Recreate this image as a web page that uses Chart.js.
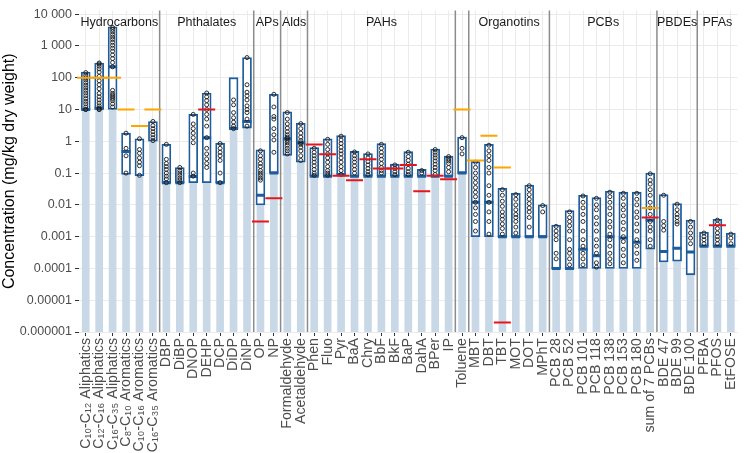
<!DOCTYPE html>
<html lang="en">
<head>
<meta charset="utf-8">
<title>Concentration by compound</title>
<script src="https://cdn.jsdelivr.net/npm/chart.js@4.4.1/dist/chart.umd.min.js"></script>
<style>
    html, body { margin: 0; padding: 0; background: #ffffff; }
    #wrap { width: 750px; height: 453px; }
</style>
</head>
<body>
<div id="wrap"><canvas id="concChart" width="750" height="453"></canvas></div>
<script>
// Compounds, in plotting order
const categories = [
    'C₁₀-C₁₂ Aliphatics', 'C₁₂-C₁₆ Aliphatics', 'C₁₆-C₃₅ Aliphatics',
    'C₈-C₁₀ Aromatics', 'C₁₀-C₁₆ Aromatics', 'C₁₆-C₃₅ Aromatics',
    'DBP', 'DiBP', 'DNOP', 'DEHP', 'DCP', 'DiDP', 'DiNP',
    'OP', 'NP',
    'Formaldehyde', 'Acetaldehyde',
    'Phen', 'Fluo', 'Pyr', 'BaA', 'Chry', 'BbF', 'BkF', 'BaP', 'DahA', 'BPer', 'IP',
    'Toluene',
    'MBT', 'DBT', 'TBT', 'MOT', 'DOT', 'MPhT',
    'PCB 28', 'PCB 52', 'PCB 101', 'PCB 118', 'PCB 138', 'PCB 153', 'PCB 180', 'sum of 7 PCBs',
    'BDE 47', 'BDE 99', 'BDE 100',
    'PFBA', 'PFOS', 'EtFOSE'
];

// Facet groups (Toluene has no header)
const groupNames = ['Hydrocarbons', 'Phthalates', 'APs', 'Alds', 'PAHs', '', 'Organotins', 'PCBs', 'PBDEs', 'PFAs'];
const groupSizes = [6, 7, 2, 2, 11, 1, 6, 8, 3, 3];

// Quantification limit (light blue column)
const loq = [
    10, 10, 10, 0.09, 0.083, 1,
    0.05, 0.05, 0.05, 0.05, 0.05, 2.4, 2.6,
    0.01, 0.1,
    0.36, 0.22,
    0.08, 0.08, 0.08, 0.08, 0.08, 0.08, 0.08, 0.08, 0.08, 0.08, 0.08,
    0.1,
    0.001, 0.001, 0.001, 0.001, 0.001, 0.001,
    0.0001, 0.0001, 0.0001, 0.0001, 0.0001, 0.0001, 0.0001, 0.0004,
    0.00016, 0.00017, 0.000063,
    0.0005, 0.0005, 0.0005
];

// Range boxes (min / max) and medians
const boxMin = loq.slice();
const boxMax = [
    150, 290, 4000, 1.8, 1.2, 4.2,
    0.8, 0.15, 7, 33, 0.87, 100, 430,
    0.54, 30,
    8.4, 3.7,
    0.63, 1.2, 1.5, 0.48, 0.41, 0.85, 0.19, 0.47, 0.13, 0.57, 0.34,
    1.35,
    0.23, 0.8, 0.033, 0.023, 0.042, 0.01,
    0.0023, 0.0066, 0.02, 0.017, 0.027, 0.025, 0.025, 0.1,
    0.021, 0.011, 0.0033,
    0.0014, 0.0035, 0.0013
];
const medians = [
    10, 11, 220, 0.48, null, null,
    0.05, 0.05, 0.078, 1.3, 0.05, 2.5, 4.2,
    0.02, 0.1,
    1.2, 0.9,
    0.08, 0.08, 0.09, 0.08, 0.08, 0.08, 0.08, 0.08, 0.08, 0.08, 0.08,
    0.1,
    0.012, 0.012, 0.001, 0.001, 0.001, 0.001,
    0.0001, 0.0001, 0.0004, 0.00025, 0.001, 0.0009, 0.00066, 0.0033,
    0.00034, 0.00043, 0.00033,
    0.0005, 0.0005, 0.0005
];

// Guideline values
const orangeLimit = [
    100, 100, 100, 10, 3, 10,
    null, null, null, null, null, null, null,
    null, null,
    null, null,
    null, null, null, null, null, null, null, null, null, null, null,
    10,
    0.25, 1.5, 0.15, null, null, null,
    null, null, null, null, null, null, null, 0.008,
    null, null, null,
    null, null, null
];
const redLimit = [
    null, null, null, null, null, null,
    null, null, null, 10, null, null, null,
    0.003, 0.016,
    null, null,
    0.79, 0.39, 0.083, 0.059, 0.27, 0.14, 0.14, 0.18, 0.027, 0.083, 0.064,
    null,
    null, null, 0.000002, null, null, null,
    null, null, null, null, null, null, null, 0.004,
    null, null, null,
    null, 0.0023, null
];

// Individual samples
const points = [
    [10, 10, 12, 15, 18, 22, 27, 33, 40, 48, 58, 70, 85, 100, 120, 145],
    [10, 10, 11, 13, 16, 20, 25, 32, 45, 60, 80, 110, 150, 190, 230, 270, 290],
    [3800, 3300, 2800, 2300, 1900, 1600, 1300, 1050, 850, 680, 520, 400, 300, 220, 40, 32, 28, 25, 22, 19, 15, 12],
    [1.8, 0.6, 0.35, 0.1],
    [1.2, 0.55, 0.42, 0.3, 0.22, 0.17, 0.085],
    [4.2, 3.1, 2.5, 2, 1.6, 1.3, 1.05],
    [0.8, 0.27, 0.2, 0.16, 0.13, 0.1, 0.08, 0.065, 0.05],
    [0.15, 0.12, 0.1, 0.085, 0.07, 0.06, 0.05],
    [7, 3.5, 2.5, 1.8, 1.3, 0.9, 0.1, 0.08],
    [33, 25, 19, 14, 10, 7, 5, 3, 1.3, 0.6, 0.4, 0.28, 0.2, 0.15],
    [0.85, 0.6, 0.45, 0.35, 0.25, 0.1, 0.05],
    [20, 14, 8, 5.5, 4, 3, 2.5],
    [430, 60, 35, 27, 20, 13, 10, 8, 5, 3],
    [0.5, 0.35, 0.27, 0.2, 0.16, 0.12, 0.1, 0.085, 0.07, 0.06],
    [30, 12, 6, 5, 2.5, 1.6, 1.1, 0.45],
    [8, 5, 3.5, 2.6, 2, 1.6, 1.35, 1.2, 1.05, 0.9, 0.75, 0.6, 0.5, 0.4],
    [3.6, 2.5, 1.8, 1.35, 1.05, 0.9, 0.8, 0.65, 0.5, 0.35, 0.25],
    [0.6, 0.45, 0.35, 0.28, 0.22, 0.17, 0.13, 0.1, 0.085],
    [1.15, 0.8, 0.55, 0.4, 0.3, 0.22, 0.16, 0.12, 0.1, 0.085],
    [1.45, 1.1, 0.85, 0.65, 0.5, 0.4, 0.3, 0.22, 0.16, 0.12, 0.09],
    [0.46, 0.35, 0.28, 0.22, 0.17, 0.13, 0.1],
    [0.4, 0.3, 0.23, 0.18, 0.14, 0.11, 0.09],
    [0.8, 0.6, 0.45, 0.35, 0.27, 0.2, 0.15, 0.12, 0.1],
    [0.18, 0.14, 0.11, 0.09],
    [0.45, 0.33, 0.25, 0.19, 0.14, 0.11, 0.09],
    [0.12, 0.1],
    [0.55, 0.45, 0.37, 0.3, 0.24, 0.19, 0.15, 0.12, 0.09],
    [0.33, 0.28, 0.24, 0.2, 0.15, 0.11],
    [1.3, 0.6, 0.4],
    [0.22, 0.15, 0.1, 0.07, 0.05, 0.035, 0.025, 0.018, 0.012, 0.008, 0.005, 0.003, 0.0015],
    [0.75, 0.5, 0.35, 0.25, 0.15, 0.1, 0.04, 0.02, 0.012, 0.006, 0.003, 0.0012],
    [0.03, 0.02, 0.013, 0.009, 0.006, 0.0045, 0.0035, 0.0025, 0.0018, 0.0012],
    [0.021, 0.015, 0.01, 0.007, 0.005, 0.004, 0.003, 0.002, 0.0013],
    [0.04, 0.03, 0.021, 0.015, 0.011, 0.008, 0.006, 0.004, 0.002],
    [0.0095, 0.006],
    [0.0021, 0.0015, 0.0011, 0.0008, 0.0003, 0.0002],
    [0.006, 0.004, 0.003, 0.0022, 0.0015, 0.0008, 0.0004, 0.0003, 0.0002, 0.00013],
    [0.019, 0.012, 0.008, 0.005, 0.003, 0.0015, 0.0008, 0.0005, 0.0003, 0.0002, 0.00013],
    [0.016, 0.01, 0.007, 0.004, 0.0025, 0.0015, 0.0008, 0.0005, 0.0003, 0.00015, 0.00011],
    [0.025, 0.018, 0.012, 0.008, 0.005, 0.003, 0.002, 0.0012, 0.0008, 0.0005, 0.0003, 0.0002, 0.00014],
    [0.023, 0.016, 0.01, 0.007, 0.0045, 0.0028, 0.0017, 0.001, 0.0007, 0.0004, 0.00025, 0.00015],
    [0.023, 0.015, 0.01, 0.006, 0.004, 0.0025, 0.0015, 0.0008, 0.0005, 0.0003, 0.00018],
    [0.095, 0.06, 0.045, 0.03, 0.02, 0.012, 0.008, 0.005, 0.003, 0.002, 0.0015, 0.0008, 0.0005],
    [0.02, 0.003, 0.0022, 0.0016],
    [0.0105, 0.007, 0.005, 0.004, 0.003, 0.0025],
    [0.003, 0.002, 0.0013, 0.0009, 0.0006],
    [0.0013, 0.001, 0.0008, 0.0006],
    [0.0033, 0.0025, 0.0018, 0.0013, 0.001, 0.0008, 0.0006],
    [0.0012, 0.0009, 0.0006]
];

// Y axis
const yTicks = [1e-6, 1e-5, 1e-4, 1e-3, 1e-2, 1e-1, 1, 10, 100, 1000, 10000];
const yTickLabels = ['0.000001', '0.00001', '0.0001', '0.001', '0.01', '0.1', '1', '10', '100', '1 000', '10 000'];
const yMin = 1e-6;
const yMax = 1.3e4;

const FONT = "'Liberation Sans', Arial, Helvetica, sans-serif";
const BOX_BLUE = '#1f5c9c';

// Group separators and facet headers
const facetPlugin = {
    id: 'facets',
    beforeDatasetsDraw(chart) {
        const { ctx, chartArea, scales: { x } } = chart;
        ctx.save();
        ctx.strokeStyle = '#8c8c8c';
        ctx.lineWidth = 1.5;
        let end = 0;
        groupSizes.forEach(n => {
            end += n;
            if (end >= categories.length) return;
            const px = (x.getPixelForValue(end - 1) + x.getPixelForValue(end)) / 2;
            ctx.beginPath();
            ctx.moveTo(px, chartArea.top);
            ctx.lineTo(px, chartArea.bottom);
            ctx.stroke();
        });
        ctx.restore();
    },
    afterDraw(chart) {
        const { ctx, chartArea, scales: { x } } = chart;
        ctx.save();
        ctx.fillStyle = '#1a1a1a';
        ctx.font = '12.5px ' + FONT;
        ctx.textAlign = 'center';
        ctx.textBaseline = 'alphabetic';
        let start = 0;
        groupSizes.forEach((n, g) => {
            const cx = (x.getPixelForValue(start) + x.getPixelForValue(start + n - 1)) / 2;
            if (groupNames[g]) ctx.fillText(groupNames[g], cx, chartArea.top + 15);
            start += n;
        });
        ctx.restore();
    }
};

function buildChart() {
    const ctx = document.getElementById('concChart').getContext('2d');

    // category scale needs the label itself as x
    const samplePoints = points.flatMap((vals, i) => vals.map(v => ({ x: categories[i], y: v })));

    const markerSet = (data, color, radius, width, order) => ({
        type: 'line',
        data: data,
        showLine: false,
        pointStyle: 'line',
        pointRadius: radius,
        pointHoverRadius: radius,
        pointBorderColor: color,
        pointBackgroundColor: color,
        pointBorderWidth: width,
        order: order
    });

    new Chart(ctx, {
        type: 'bar',
        data: {
            labels: categories,
            datasets: [
                {
                    data: loq.map(v => [yMin, v]),
                    backgroundColor: '#c9d8e7',
                    borderWidth: 0,
                    barThickness: 7,
                    grouped: false,
                    order: 6
                },
                {
                    data: boxMin.map((v, i) => [v, boxMax[i]]),
                    backgroundColor: '#ffffff',
                    borderColor: BOX_BLUE,
                    borderWidth: 1.8,
                    borderSkipped: false,
                    barThickness: 9,
                    grouped: false,
                    order: 5
                },
                markerSet(medians, BOX_BLUE, 4.5, 3, 4),
                {
                    type: 'line',
                    data: samplePoints,
                    showLine: false,
                    pointStyle: 'circle',
                    pointRadius: 2,
                    pointHoverRadius: 2,
                    pointBorderColor: '#1a1a1a',
                    pointBackgroundColor: 'rgba(255,255,255,0)',
                    pointBorderWidth: 0.9,
                    order: 3
                },
                markerSet(orangeLimit, '#ffa500', 8.5, 2, 2),
                markerSet(redLimit, '#e8141c', 8.5, 2, 1)
            ]
        },
        options: {
            responsive: false,
            animation: false,
            events: [],
            layout: { padding: 0 },
            plugins: {
                legend: { display: false },
                tooltip: { enabled: false }
            },
            scales: {
                x: {
                    type: 'category',
                    offset: true,
                    border: { display: false },
                    grid: {
                        offset: false,
                        color: '#ebebeb',
                        tickColor: '#333333',
                        tickLength: 4
                    },
                    ticks: {
                        autoSkip: false,
                        maxRotation: 90,
                        minRotation: 90,
                        padding: 2,
                        color: '#4d4d4d',
                        font: { family: FONT, size: 14.2 }
                    },
                    afterFit(scale) { scale.height = 121; }
                },
                y: {
                    type: 'logarithmic',
                    min: yMin,
                    max: yMax,
                    border: { display: false },
                    grid: {
                        color: '#ebebeb',
                        tickColor: '#333333',
                        tickLength: 4
                    },
                    afterBuildTicks(scale) {
                        scale.ticks = yTicks.map(v => ({ value: v }));
                    },
                    ticks: {
                        padding: 3,
                        color: '#4d4d4d',
                        font: { family: FONT, size: 12.5 },
                        callback: (value, index) => yTickLabels[index]
                    },
                    title: {
                        display: true,
                        text: 'Concentration (mg/kg dry weight)',
                        color: '#000000',
                        font: { family: FONT, size: 16 },
                        padding: { top: 0, bottom: 0 }
                    },
                    afterFit(scale) { scale.width = 79; }
                }
            }
        },
        plugins: [facetPlugin]
    });
}

document.addEventListener('DOMContentLoaded', buildChart);
</script>
</body>
</html>
